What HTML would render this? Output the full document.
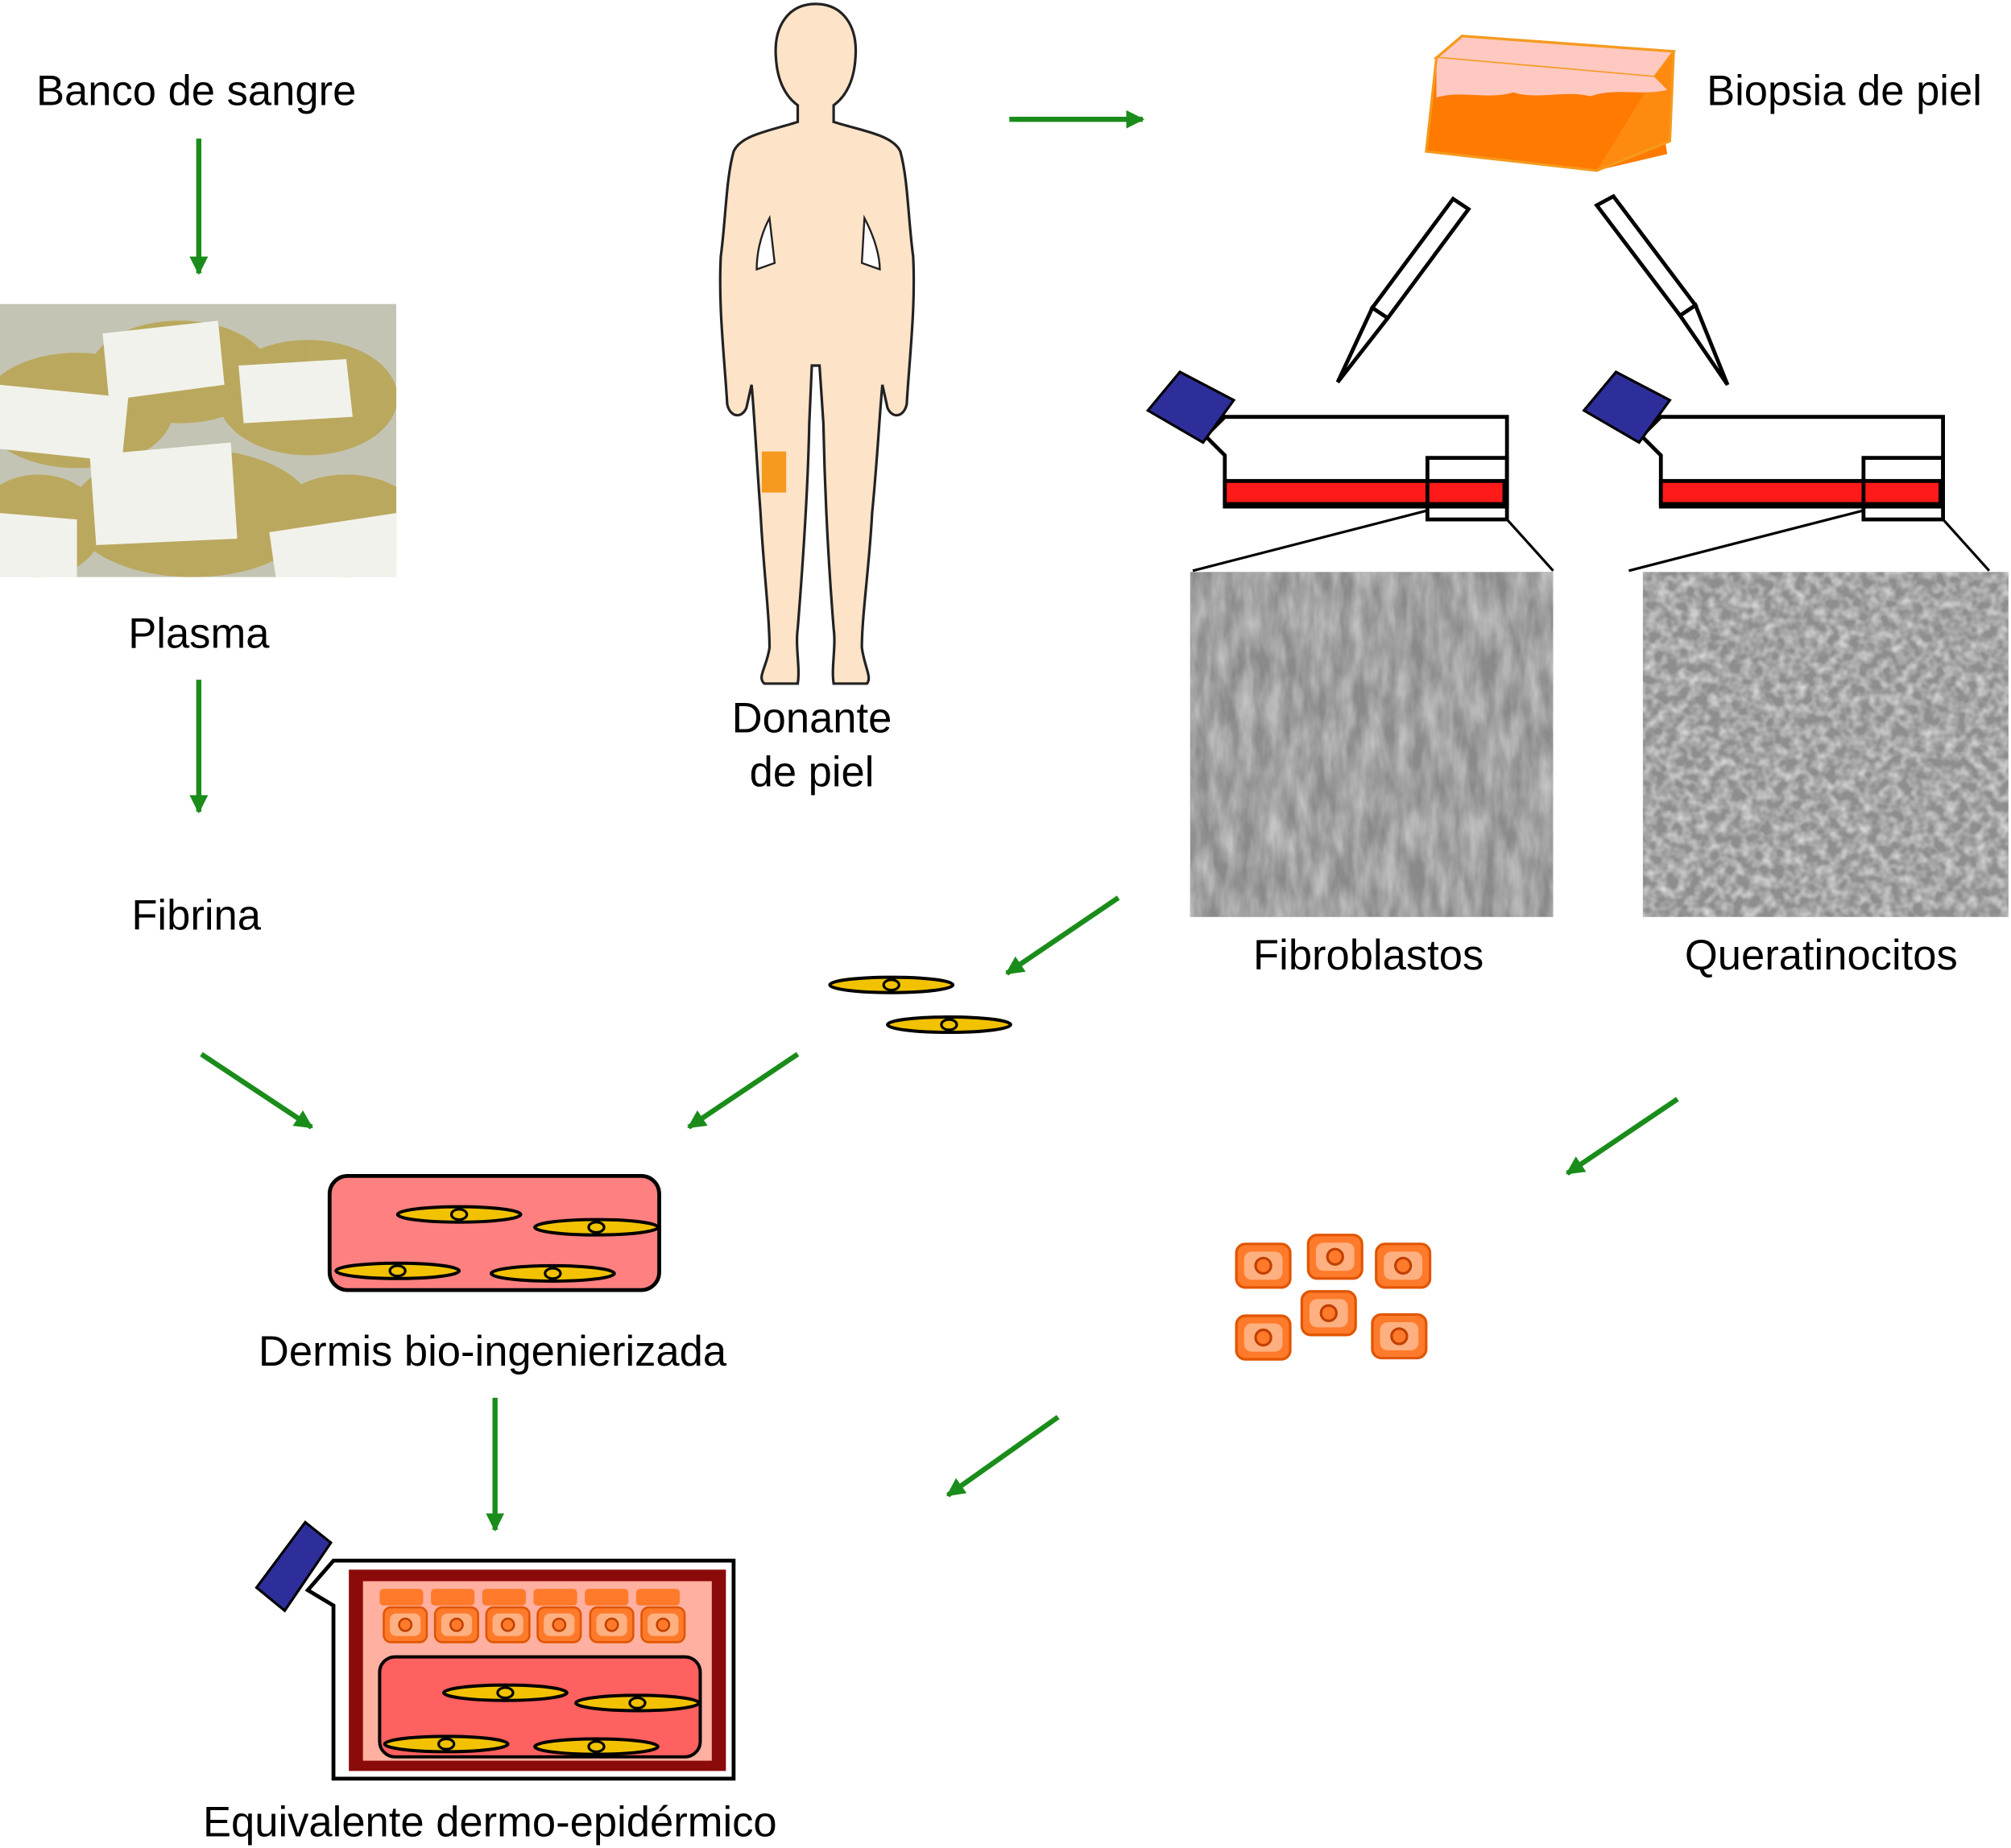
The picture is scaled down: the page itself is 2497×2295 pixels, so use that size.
<!DOCTYPE html>
<html><head><meta charset="utf-8"><style>
html,body{margin:0;padding:0;background:#fff;width:2497px;height:2295px;overflow:hidden}
svg{display:block}
text{font-family:"Liberation Sans",Arial,sans-serif;font-size:33px;fill:#000}
</style></head><body>
<svg width="2497" height="2295" viewBox="0 0 1568 1441" xmlns="http://www.w3.org/2000/svg">
<defs>
<marker id="ah" viewBox="0 0 10 10" refX="9" refY="5" markerWidth="3.6" markerHeight="3.6" orient="auto" markerUnits="strokeWidth"><path d="M0,0 L10,5 L0,10 Z" fill="#1a8c1a"/></marker>
<clipPath id="pc"><rect x="0" y="237" width="309" height="213"/></clipPath>
<filter id="cellsA" x="0" y="0" width="100%" height="100%"><feTurbulence type="fractalNoise" baseFrequency="0.09 0.03" numOctaves="3" seed="3"/><feColorMatrix type="matrix" values="0 0 0 0 0.55 0 0 0 0 0.55 0 0 0 0 0.55 1.6 0 0 0 -0.4"/></filter>
<filter id="cellsB" x="0" y="0" width="100%" height="100%"><feTurbulence type="fractalNoise" baseFrequency="0.12" numOctaves="2" seed="7"/><feColorMatrix type="matrix" values="0 0 0 0 0.7 0 0 0 0 0.7 0 0 0 0 0.7 1.8 0 0 0 -0.6"/></filter>
<g id="fib"><ellipse cx="0" cy="0" rx="48" ry="6" fill="#f2c200" stroke="#000" stroke-width="2.5"/><ellipse cx="0" cy="0" rx="6" ry="4" fill="none" stroke="#000" stroke-width="2"/></g>
<g id="ker"><rect x="-21" y="-17" width="42" height="34" rx="7" fill="#ff7a2a" stroke="#e05500" stroke-width="2"/><rect x="-15" y="-11" width="30" height="22" rx="6" fill="#ffb080"/><circle r="6" fill="#ff7a2a" stroke="#c04000" stroke-width="2"/></g>
</defs>
<g stroke="#1a8c1a" stroke-width="4" fill="none" marker-end="url(#ah)">
<line x1="155" y1="108" x2="155" y2="213"/>
<line x1="155" y1="530" x2="155" y2="633"/>
<line x1="157" y1="822" x2="243" y2="879"/>
<line x1="622" y1="822" x2="537" y2="879"/>
<line x1="386" y1="1090" x2="386" y2="1193"/>
<line x1="787" y1="93" x2="891" y2="93"/>
<line x1="872" y1="700" x2="785" y2="759"/>
<line x1="1308" y1="857" x2="1222" y2="915"/>
<line x1="825" y1="1105" x2="739" y2="1166"/>
</g>
<text x="153" y="82" text-anchor="middle">Banco de sangre</text>
<text x="155" y="505" text-anchor="middle">Plasma</text>
<text x="153" y="725" text-anchor="middle">Fibrina</text>
<text x="384" y="1065" text-anchor="middle">Dermis bio-ingenierizada</text>
<text x="382" y="1432" text-anchor="middle">Equivalente dermo-epidérmico</text>
<text x="633" y="571" text-anchor="middle">Donante</text>
<text x="633" y="613" text-anchor="middle">de piel</text>
<text x="1438" y="82" text-anchor="middle">Biopsia de piel</text>
<text x="1067" y="756" text-anchor="middle">Fibroblastos</text>
<text x="1420" y="756" text-anchor="middle">Queratinocitos</text>
<!-- plasma photo -->
<g clip-path="url(#pc)">
<rect x="0" y="237" width="309" height="213" fill="#c4c4b4"/>
<g fill="#b9a450" opacity="0.85">
<ellipse cx="140" cy="290" rx="70" ry="40"/><ellipse cx="240" cy="310" rx="70" ry="45"/><ellipse cx="60" cy="320" rx="75" ry="45"/><ellipse cx="150" cy="400" rx="95" ry="50"/><ellipse cx="270" cy="410" rx="60" ry="40"/><ellipse cx="30" cy="410" rx="50" ry="40"/>
</g>
<g fill="#f2f2ec">
<polygon points="80,260 170,250 175,300 85,312"/><polygon points="186,285 270,280 275,325 190,330"/><polygon points="0,300 100,310 95,360 0,350"/><polygon points="70,355 180,345 185,420 75,425"/><polygon points="0,400 60,405 60,450 0,450"/><polygon points="210,415 309,400 309,450 215,450"/>
</g>
</g>
<!-- human -->
<path d="M636,3 C615,3 603,20 605,45 C606,62 612,75 622,82 L622,95 C600,102 578,105 572,118 C566,140 566,170 562,200 C560,240 565,280 567,315 C569,325 578,327 582,318 L586,300 C588,320 590,360 593,400 C595,440 600,480 600,505 C598,520 590,528 596,533 L622,533 C624,520 620,505 622,490 C626,440 630,380 631,330 L633,285 L639,285 L642,330 C643,380 646,440 650,490 C652,505 648,520 650,533 L676,533 C680,528 674,520 672,505 C672,480 678,440 680,400 C684,360 686,320 688,300 L692,318 C696,327 705,325 707,315 C709,280 714,240 712,200 C708,170 708,140 702,118 C696,105 672,102 650,95 L650,82 C660,75 666,62 667,45 C669,20 657,3 636,3 Z" fill="#fde3c8" stroke="#222" stroke-width="2"/>
<path d="M600,170 C592,185 590,200 590,210 L604,205 Z" fill="#fff" stroke="#222" stroke-width="1.5"/>
<path d="M674,170 C682,185 686,200 686,210 L672,205 Z" fill="#fff" stroke="#222" stroke-width="1.5"/>
<rect x="594" y="352" width="19" height="32" fill="#f59a1e"/>
<!-- biopsy block -->
<polygon points="1120,45 1140,28 1305,40 1290,60" fill="#ffc8c0" stroke="#f59a1e" stroke-width="2"/>
<polygon points="1120,45 1290,60 1300,120 1245,133 1112,118" fill="#ff7a00"/>
<polygon points="1290,60 1305,40 1302,110 1245,133" fill="#ff8a10"/>
<path d="M1120,45 L1290,60 L1300,70 C1280,75 1260,68 1240,75 C1220,70 1200,78 1180,72 C1160,78 1140,70 1120,76 Z" fill="#ffc8c0"/>
<polygon points="1120,45 1140,28 1305,40 1302,110 1245,133 1112,118" fill="none" stroke="#f59a1e" stroke-width="2"/>
<!-- pipettes -->
<g stroke="#000" stroke-width="3" fill="#fff">
<polygon points="1133,155 1145,163 1082,248 1070,240"/>
<polygon points="1070,240 1082,248 1043,298"/>
<polygon points="1245,160 1258,153 1322,238 1310,246"/>
<polygon points="1310,246 1322,238 1347,300"/>
</g>
<!-- flasks -->
<g id="flask1">
<polygon points="955,325 980,325 1175,325 1175,395 955,395 955,355 940,340" fill="#fff" stroke="#000" stroke-width="3"/>
<rect x="955" y="375" width="218" height="18" fill="#ff1a1a" stroke="#000" stroke-width="3"/>
<rect x="1113" y="357" width="62" height="48" fill="none" stroke="#000" stroke-width="3"/>
<polygon points="895,320 920,290 962,312 938,345" fill="#2e2e9a" stroke="#000" stroke-width="2"/>
<line x1="1113" y1="398" x2="930" y2="445" stroke="#000" stroke-width="2"/>
<line x1="1175" y1="405" x2="1211" y2="445" stroke="#000" stroke-width="2"/>
</g>
<use href="#flask1" transform="translate(340,0)"/>
<!-- micrographs -->
<rect x="928" y="446" width="283" height="269" fill="#8a8a8a"/>
<rect x="928" y="446" width="283" height="269" filter="url(#cellsA)"/>
<rect x="1281" y="446" width="285" height="269" fill="#8e8e8e"/>
<rect x="1281" y="446" width="285" height="269" filter="url(#cellsB)"/>
<!-- fibroblasts free -->
<use href="#fib" transform="translate(695,768)"/>
<use href="#fib" transform="translate(740,799)"/>
<!-- keratinocytes -->
<use href="#ker" transform="translate(985,987)"/>
<use href="#ker" transform="translate(1041,980)"/>
<use href="#ker" transform="translate(1094,987)"/>
<use href="#ker" transform="translate(985,1043)"/>
<use href="#ker" transform="translate(1036,1024)"/>
<use href="#ker" transform="translate(1091,1042)"/>
<!-- dermis -->
<rect x="257" y="917" width="257" height="89" rx="14" fill="#ff8080" stroke="#000" stroke-width="3"/>
<use href="#fib" transform="translate(358,947)"/>
<use href="#fib" transform="translate(465,957)"/>
<use href="#fib" transform="translate(310,991)"/>
<use href="#fib" transform="translate(431,993)"/>
<!-- final flask -->
<polygon points="260,1217 572,1217 572,1387 260,1387 260,1252 240,1240" fill="#fff" stroke="#000" stroke-width="3"/>
<polygon points="200,1238 238,1187 258,1203 222,1256" fill="#2e2e9a" stroke="#000" stroke-width="2"/>
<rect x="272" y="1224" width="294" height="157" fill="#8b0a0a"/>
<rect x="283" y="1233" width="272" height="140" fill="#ffb0a0"/>
<rect x="296" y="1292" width="250" height="78" rx="12" fill="#ff6060" stroke="#000" stroke-width="2.5"/>
<g fill="#ff7a2a"><rect x="296" y="1239" width="34" height="13" rx="3"/><rect x="336" y="1239" width="34" height="13" rx="3"/><rect x="376" y="1239" width="34" height="13" rx="3"/><rect x="416" y="1239" width="34" height="13" rx="3"/><rect x="456" y="1239" width="34" height="13" rx="3"/><rect x="496" y="1239" width="34" height="13" rx="3"/></g>
<use href="#ker" transform="translate(316,1267) scale(0.8)"/>
<use href="#ker" transform="translate(356,1267) scale(0.8)"/>
<use href="#ker" transform="translate(396,1267) scale(0.8)"/>
<use href="#ker" transform="translate(436,1267) scale(0.8)"/>
<use href="#ker" transform="translate(477,1267) scale(0.8)"/>
<use href="#ker" transform="translate(517,1267) scale(0.8)"/>
<use href="#fib" transform="translate(394,1320)"/>
<use href="#fib" transform="translate(497,1328)"/>
<use href="#fib" transform="translate(348,1360)"/>
<use href="#fib" transform="translate(465,1362)"/>
</svg>
</body></html>
